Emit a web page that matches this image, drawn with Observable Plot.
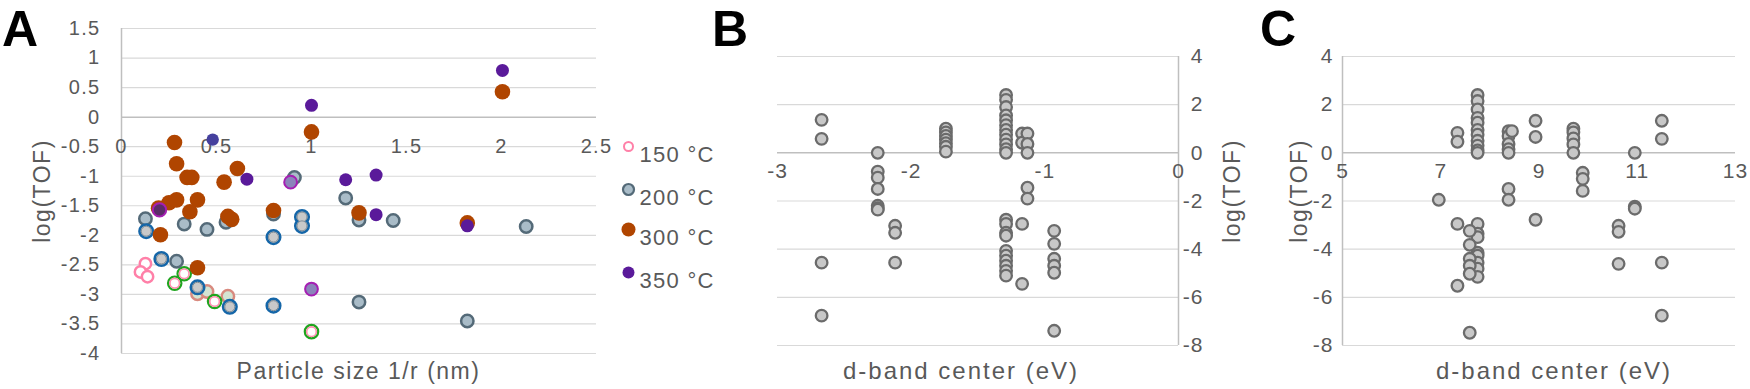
<!DOCTYPE html>
<html><head><meta charset="utf-8">
<script src="https://cdn.jsdelivr.net/npm/d3@7"></script>
<script src="https://cdn.jsdelivr.net/npm/@observablehq/plot@0.6"></script>
<style>
body{margin:0;background:#fff;}
#wrap{position:relative;width:1750px;height:389px;overflow:hidden;background:#fff;}
.panel{position:absolute;top:0;}
#overlay{position:absolute;left:0;top:0;pointer-events:none;}
</style></head><body><div id="wrap"></div>
<script>
// ---------- Panel A data: [1/r (nm), log(TOF)] ----------
const t150 = [[0.126,-2.48],[0.10,-2.62],[0.137,-2.70]];
const t150green = [[0.33,-2.65],[0.28,-2.81],[0.49,-3.12],[1.0,-3.63]];
const t150salmon = [[0.40,-2.99],[0.45,-2.95],[0.56,-3.03]];
const t200 = [[0.126,-1.72],[0.33,-1.81],[0.45,-1.90],[0.55,-1.78],[0.80,-1.64],[0.29,-2.44],
  [0.91,-1.02],[1.18,-1.37],[1.25,-1.74],[1.43,-1.75],[2.13,-1.85],[1.25,-3.13],[1.82,-3.45]];
const t200blue = [[0.13,-1.93],[0.21,-2.40],[0.40,-2.88],[0.57,-3.21],[0.80,-2.03],[0.80,-3.19],[0.95,-1.69],[0.95,-1.84]];
const t300 = [[0.279,-0.43],[0.29,-0.79],[0.345,-1.02],[0.37,-1.02],[0.61,-0.87],[0.54,-1.10],[0.195,-1.54],
  [0.25,-1.45],[0.29,-1.40],[0.40,-1.40],[0.36,-1.60],[0.205,-1.99],[0.56,-1.68],[0.58,-1.73],[0.80,-1.58],
  [0.40,-2.55],[1.0,-0.25],[2.005,0.43],[1.25,-1.62],[1.82,-1.79]];
const t350 = [[1.0,0.20],[0.66,-1.05],[1.18,-1.06],[1.34,-0.98],[1.34,-1.65],[1.82,-1.84],[2.005,0.79]];
const t350blue = [[0.48,-0.38]];
const t350ring = [[0.89,-1.10],[1.0,-2.91]];
const t350dark = [[0.20,-1.57]];
const legendLabels = ["150 °C","200 °C","300 °C","350 °C"];
const xTicksA = [0,0.5,1,1.5,2,2.5];
const yTicksA = [-4,-3.5,-3,-2.5,-2,-1.5,-1,-0.5,0,0.5,1,1.5];

// ---------- Panel B data: [d-band center (eV), log(TOF)] ----------
const bandB = [
  [-2.67,1.37],[-2.67,0.58],[-2.67,-4.56],[-2.67,-6.76],
  [-2.25,0.0],[-2.25,-0.78],[-2.25,-1.03],[-2.25,-1.5],[-2.25,-2.2],[-2.25,-2.3],[-2.25,-2.36],
  [-2.12,-3.03],[-2.12,-3.32],[-2.12,-4.56],
  [-1.74,1.0],[-1.74,0.85],[-1.74,0.7],[-1.74,0.55],[-1.74,0.4],[-1.74,0.25],[-1.74,0.05],
  [-1.29,2.4],[-1.29,2.2],[-1.29,1.9],[-1.29,1.55],[-1.29,1.35],[-1.29,1.15],[-1.29,0.95],[-1.29,0.75],
  [-1.29,0.55],[-1.29,0.35],[-1.29,0.15],[-1.29,0.0],
  [-1.29,-2.78],[-1.29,-2.95],[-1.29,-3.32],[-1.29,-3.44],[-1.29,-4.07],[-1.29,-4.27],[-1.29,-4.48],
  [-1.29,-4.69],[-1.29,-4.9],[-1.29,-5.1],
  [-1.17,0.8],[-1.17,0.42],[-1.17,-2.95],[-1.17,-5.44],
  [-1.13,0.8],[-1.13,0.37],[-1.13,0.0],[-1.13,-1.45],[-1.13,-1.9],
  [-0.93,-3.24],[-0.93,-3.78],[-0.93,-4.4],[-0.93,-4.69],[-0.93,-4.98],[-0.93,-7.39]
];
const xTicksB = [-3,-2,-1,0];
const yTicksBC = [-8,-6,-4,-2,0,2,4];

// ---------- Panel C data: [d-band center (eV), log(TOF)] ----------
const bandC = [
  [6.96,-1.95],
  [7.34,0.83],[7.34,0.46],[7.34,-2.95],[7.34,-5.52],
  [7.75,2.4],[7.75,2.15],[7.75,1.8],[7.75,1.45],[7.75,1.25],[7.75,0.95],[7.75,0.75],[7.75,0.5],[7.75,0.3],
  [7.75,0.1],[7.75,0.0],[7.75,-2.95],[7.75,-3.36],[7.75,-3.5],[7.75,-4.15],[7.75,-4.27],[7.75,-4.56],
  [7.75,-4.81],[7.75,-5.15],
  [7.59,-3.24],[7.59,-3.82],[7.59,-4.4],[7.59,-4.69],[7.59,-5.02],[7.59,-7.47],
  [8.38,0.9],[8.38,0.7],[8.38,0.37],[8.38,0.15],[8.38,0.0],[8.45,0.9],[8.38,-1.5],[8.38,-1.95],
  [8.93,1.33],[8.93,0.66],[8.93,-2.78],
  [9.7,1.0],[9.7,0.85],[9.7,0.6],[9.7,0.35],[9.7,0.0],
  [9.89,-0.83],[9.89,-1.08],[9.89,-1.58],
  [10.62,-3.03],[10.62,-3.28],[10.62,-4.61],
  [10.95,0.0],[10.95,-2.24],[10.95,-2.32],
  [11.5,1.33],[11.5,0.58],[11.5,-4.56],[11.5,-6.76]
];
const xTicksC = [5,7,9,11,13];

// ---------- titles ----------
const panelLetters = ["A","B","C"];
const yTitle = "log(TOF)";
const xTitleA = "Particle size 1/r (nm)";
const xTitleBC = "d-band center (eV)";

// ---------- styling ----------
const FONT = "'Liberation Sans', Arial, sans-serif";
const TXT = "#595959";
const GRID = "#d9d9d9";
const AXIS = "#bfbfbf";
const px = d => d[0], py = d => d[1];
const wrap = document.getElementById("wrap");

function mount(el, left, width) {
  const div = document.createElement("div");
  div.className = "panel";
  div.style.left = left + "px";
  div.style.width = width + "px";
  div.appendChild(el);
  wrap.appendChild(div);
}

// ================= Panel A =================
const legendMarks = [
  {r: 4.5, fill: "#fff", stroke: "#ff80a8", sw: 2},
  {r: 5.5, fill: "#a9bcc8", stroke: "#546a78", sw: 2.2},
  {r: 7, fill: "#b04500", stroke: "none", sw: 0},
  {r: 6, fill: "#5a1a9a", stroke: "none", sw: 0}
];
const legendDy = [118, 161, 201, 244];
const legend = legendLabels.flatMap((lab, i) => [
  Plot.dot([lab], {frameAnchor: "top-right", dx: 32, dy: legendDy[i], r: legendMarks[i].r,
    fill: legendMarks[i].fill, stroke: legendMarks[i].stroke, strokeWidth: legendMarks[i].sw}),
  Plot.text([lab], {frameAnchor: "top-right", dx: 43, dy: legendDy[i], text: d => d,
    textAnchor: "start", fontSize: 22, fill: TXT})
]);

const A = Plot.plot({
  width: 720, height: 389,
  marginLeft: 121, marginRight: 124, marginTop: 28, marginBottom: 36,
  x: {domain: [0, 2.5], axis: null},
  y: {domain: [-4, 1.5], axis: null},
  style: {fontFamily: FONT, background: "transparent", overflow: "visible", letterSpacing: "1.3px"},
  marks: [
    Plot.ruleY(yTicksA.filter(v => v !== 0), {stroke: GRID, strokeWidth: 1.2}),
    Plot.ruleX([0], {stroke: AXIS, strokeWidth: 1.5}),
    Plot.ruleY([0], {stroke: AXIS, strokeWidth: 1.5}),
    Plot.text(yTicksA, {y: d => d, text: d => String(d), frameAnchor: "left", dx: -21, textAnchor: "end", fontSize: 20, fill: TXT}),
    Plot.text(xTicksA, {x: d => d, y: 0, text: d => String(d), dy: 29, fontSize: 20, fill: TXT}),
    // 150 °C variants
    Plot.dot(t150salmon, {x: px, y: py, r: 6.2, fill: "#d4e4d2", stroke: "#d98a7f", strokeWidth: 2.5}),
    Plot.dot(t150, {x: px, y: py, r: 5.7, fill: "#fff", stroke: "#ff80a8", strokeWidth: 2.5}),
    Plot.dot(t150green, {x: px, y: py, r: 6.7, fill: "#fff", stroke: "#1fa51f", strokeWidth: 2.2}),
    Plot.dot(t150green, {x: px, y: py, r: 4.8, fill: "#fff", stroke: "#ff8fb0", strokeWidth: 1.6}),
    // 200 °C
    Plot.dot(t200, {x: px, y: py, r: 6.2, fill: "#a9bcc8", stroke: "#546a78", strokeWidth: 2.5}),
    Plot.dot(t200blue, {x: px, y: py, r: 6.8, fill: "#c9c9c9", stroke: "#1566a8", strokeWidth: 2.5}),
    Plot.dot(t200blue, {x: px, y: py, r: 5, fill: "#c9c9c9", stroke: "#7d8b96", strokeWidth: 1}),
    // 300 °C
    Plot.dot(t300, {x: px, y: py, r: 7.8, fill: "#b04500"}),
    // 350 °C
    Plot.dot(t350, {x: px, y: py, r: 6.5, fill: "#5a1a9a"}),
    Plot.dot(t350blue, {x: px, y: py, r: 6.2, fill: "#45409e"}),
    Plot.dot(t350ring, {x: px, y: py, r: 6.4, fill: "#8b84ba", stroke: "#a51fb2", strokeWidth: 2}),
    Plot.dot(t350dark, {x: px, y: py, r: 6.7, fill: "#5b2c68", stroke: "#a51fb2", strokeWidth: 2}),
    ...legend
  ]
});
mount(A, 0, 720);

// ================= Panels B and C =================
function dotsBC(data) {
  return Plot.dot(data, {x: px, y: py, r: 5.8, fill: "#c8c8c8", stroke: "#6b6b6b", strokeWidth: 2.3});
}
const B = Plot.plot({
  width: 540, height: 389,
  marginLeft: 77, marginRight: 62, marginTop: 56, marginBottom: 44,
  x: {domain: [-3, 0], axis: null},
  y: {domain: [-8, 4], axis: null},
  style: {fontFamily: FONT, background: "transparent", overflow: "visible", letterSpacing: "1px"},
  marks: [
    Plot.ruleY(yTicksBC.filter(v => v !== 0), {stroke: GRID, strokeWidth: 1.2}),
    Plot.ruleY([0], {stroke: AXIS, strokeWidth: 1.5}),
    Plot.ruleX([0], {stroke: AXIS, strokeWidth: 1.5}),
    Plot.text(yTicksBC, {y: d => d, text: d => String(d), frameAnchor: "right", dx: 25, textAnchor: "end", fontSize: 21, fill: TXT}),
    Plot.text(xTicksB, {x: d => d, y: 0, text: d => String(d), dy: 18, fontSize: 21, fill: TXT}),
    dotsBC(bandB)
  ]
});
mount(B, 700, 540);

const C = Plot.plot({
  width: 500, height: 389,
  marginLeft: 92, marginRight: 15, marginTop: 56, marginBottom: 44,
  x: {domain: [5, 13], axis: null},
  y: {domain: [-8, 4], axis: null},
  style: {fontFamily: FONT, background: "transparent", overflow: "visible", letterSpacing: "1px"},
  marks: [
    Plot.ruleY(yTicksBC.filter(v => v !== 0), {stroke: GRID, strokeWidth: 1.2}),
    Plot.ruleY([0], {stroke: AXIS, strokeWidth: 1.5}),
    Plot.ruleX([5], {stroke: AXIS, strokeWidth: 1.5}),
    Plot.text(yTicksBC, {y: d => d, text: d => String(d), frameAnchor: "left", dx: -9, textAnchor: "end", fontSize: 21, fill: TXT}),
    Plot.text(xTicksC, {x: d => d, y: 0, text: d => String(d), dy: 18, fontSize: 21, fill: TXT}),
    dotsBC(bandC)
  ]
});
mount(C, 1250, 500);

// ================= titles (overlay) =================
const svg = d3.select(wrap).append("svg").attr("id", "overlay")
  .attr("width", 1750).attr("height", 389)
  .attr("font-family", FONT).attr("fill", TXT);
const yTitles = [{x: 50, y: 191}, {x: 1240, y: 191}, {x: 1307, y: 191}];
yTitles.forEach(p => svg.append("text")
  .attr("transform", `translate(${p.x},${p.y}) rotate(-90)`)
  .attr("text-anchor", "middle").attr("font-size", 23).style("letter-spacing", "1.5px")
  .text(yTitle));
const xTitles = [
  {x: 358.5, y: 379, t: xTitleA, fs: 23, ls: "1.5px"},
  {x: 961, y: 379, t: xTitleBC, fs: 24, ls: "2px"},
  {x: 1554, y: 379, t: xTitleBC, fs: 24, ls: "2px"}
];
xTitles.forEach(p => svg.append("text")
  .attr("x", p.x).attr("y", p.y).attr("text-anchor", "middle")
  .attr("font-size", p.fs).style("letter-spacing", p.ls).text(p.t));

// panel letters
const letterX = [2, 712, 1260];
panelLetters.forEach((L, i) => svg.append("text")
  .attr("x", letterX[i]).attr("y", 45.5)
  .attr("font-family", "'Liberation Sans', Arial, sans-serif")
  .attr("font-weight", 700).attr("font-size", 50).attr("fill", "#000")
  .text(L));
</script></body></html>
